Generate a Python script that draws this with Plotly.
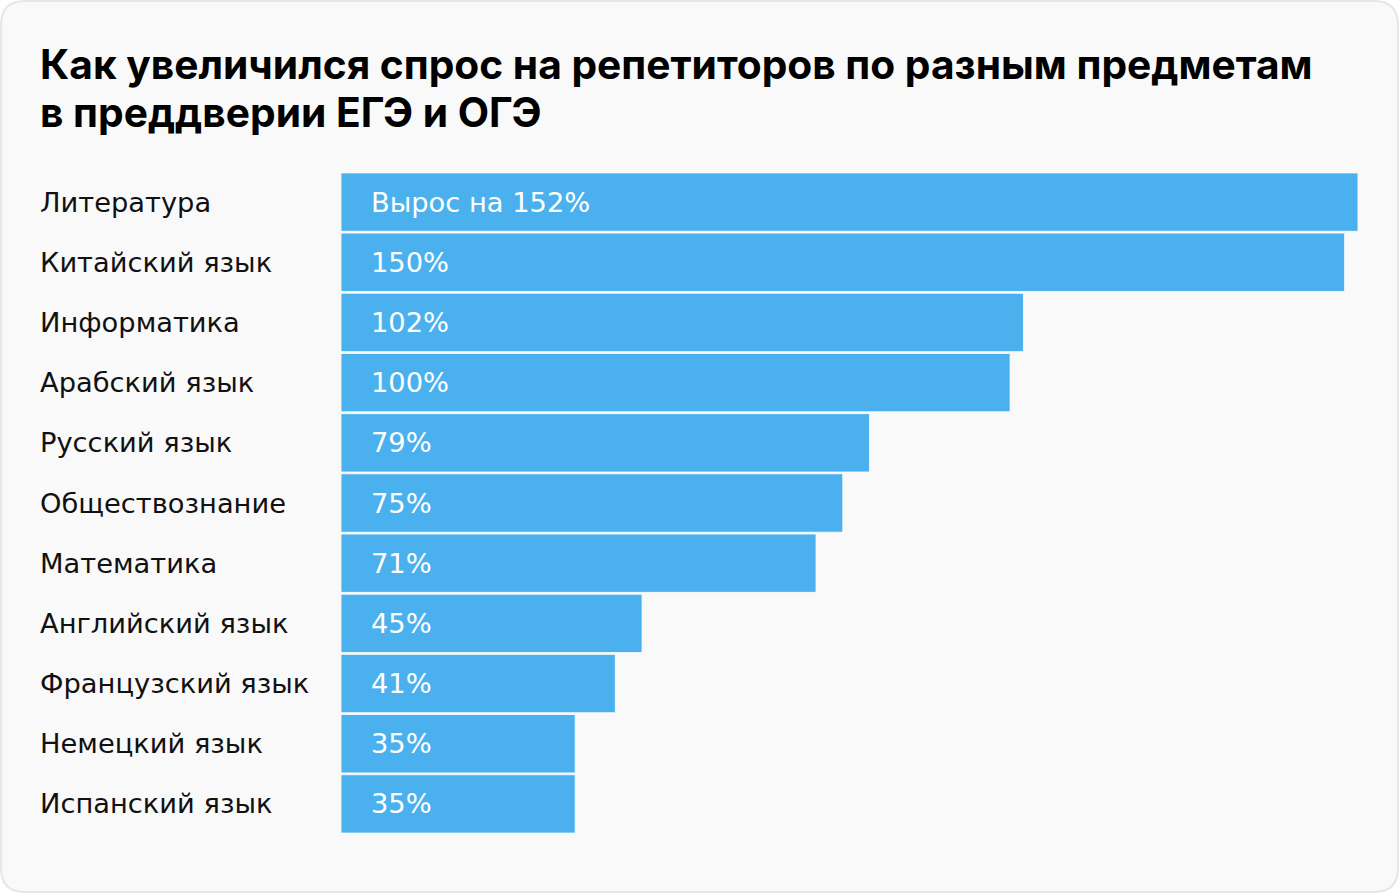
import plotly.graph_objects as go

categories = ["Литература", "Китайский язык", "Информатика", "Арабский язык", "Русский язык",
              "Обществознание", "Математика", "Английский язык", "Французский язык",
              "Немецкий язык", "Испанский язык"]
values = [152, 150, 102, 100, 79, 75, 71, 45, 41, 35, 35]
value_labels = ["Вырос на 152%", "150%", "102%", "100%", "79%", "75%", "71%", "45%", "41%", "35%", "35%"]
title_lines = ["Как увеличился спрос на репетиторов по разным предметам", "в преддверии ЕГЭ и ОГЭ"]

W, H = 1400, 894
ML, MR, MT, MB = 341, 42, 172, 60
PW, PH = W - ML - MR, H - MT - MB

FONT = "DejaVu Sans"
TFONT = "Inter"
BAR = "#4BB1EE"

fig = go.Figure(go.Bar(
    x=values, y=categories, orientation="h",
    marker=dict(color=BAR, line=dict(color="rgba(255,255,255,0.8)", width=1)),
    hoverinfo="skip",
))


def px(xp): return (xp - ML) / PW
def py(yp): return (H - MB - yp) / PH


ann = []
for c, lab in zip(categories, value_labels):
    ann.append(dict(x=0, y=c, xref="x", yref="y", text=lab, showarrow=False,
                    xanchor="left", xshift=28, font=dict(family=FONT, size=27.3, color="white")))
    ann.append(dict(x=px(40), y=c, xref="paper", yref="y", text=c, showarrow=False,
                    xanchor="left", xshift=-2, font=dict(family=FONT, size=27.3, color="#111111")))

for i, t in enumerate(title_lines):
    ann.append(dict(x=px(40), y=py(64 + 48 * i), xref="paper", yref="paper", text=f"<b>{t}</b>",
                    showarrow=False, xanchor="left", yanchor="middle", xshift=-2,
                    font=dict(family=TFONT, size=40.7, color="#000000")))

x0, y0, x1, y1, r = 1, 1, 1398, 892, 24
path = (f"M {px(x0+r)},{py(y0)} L {px(x1-r)},{py(y0)} Q {px(x1)},{py(y0)} {px(x1)},{py(y0+r)} "
        f"L {px(x1)},{py(y1-r)} Q {px(x1)},{py(y1)} {px(x1-r)},{py(y1)} "
        f"L {px(x0+r)},{py(y1)} Q {px(x0)},{py(y1)} {px(x0)},{py(y1-r)} "
        f"L {px(x0)},{py(y0+r)} Q {px(x0)},{py(y0)} {px(x0+r)},{py(y0)} Z")

fig.update_layout(
    width=W, height=H,
    margin=dict(l=ML, r=MR, t=MT, b=MB),
    paper_bgcolor="white", plot_bgcolor="rgba(0,0,0,0)",
    bargap=0.03,
    showlegend=False,
    xaxis=dict(range=[0, 152], visible=False, fixedrange=True),
    yaxis=dict(autorange="reversed", visible=False, fixedrange=True),
    annotations=ann,
    shapes=[dict(type="path", path=path, xref="paper", yref="paper", layer="below",
                 fillcolor="#F9F9F9", line=dict(color="#E6E6E6", width=2))],
)

fig.write_html("out.html", config={"displayModeBar": False},
               post_script="document.body.style.margin='0';document.body.style.padding='0';")
